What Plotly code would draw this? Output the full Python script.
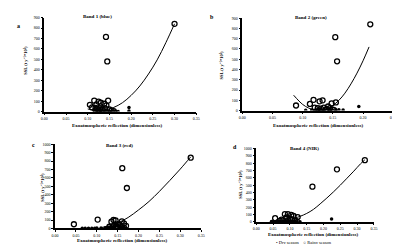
import plotly.graph_objects as go

# ---------------- data ----------------
# Panel a: Band 1 (blue)
a_rain_x = [0.300, 0.142, 0.145, 0.147, 0.115, 0.125, 0.130, 0.120, 0.105, 0.138, 0.143,
            0.110, 0.118, 0.122, 0.128, 0.132, 0.135, 0.140, 0.150, 0.155, 0.160, 0.125, 0.118]
a_rain_y = [840, 715, 480, 105, 105, 95, 85, 70, 65, 75, 60,
            40, 35, 25, 30, 20, 15, 30, 20, 10, 5, 10, 15]
a_dry_x = [0.195, 0.195, 0.120, 0.125, 0.130, 0.135, 0.140, 0.145, 0.150, 0.155, 0.160,
           0.165, 0.170, 0.115, 0.120, 0.128]
a_dry_y = [40, 5, 10, 5, 8, 3, 5, 2, 4, 3, 2, 1, 2, 12, 20, 15]
a_fit_x = [0.10, 0.12, 0.14, 0.16, 0.18, 0.20, 0.22, 0.24, 0.26, 0.28, 0.30]
a_fit_y = [25, 12, 15, 40, 85, 155, 245, 360, 495, 660, 840]

# Panel b: Band 2 (green)
b_rain_x = [0.212, 0.154, 0.157, 0.089, 0.112, 0.118, 0.128, 0.133, 0.148, 0.155, 0.142,
            0.120, 0.125, 0.130, 0.135, 0.140, 0.145, 0.150, 0.152, 0.138]
b_rain_y = [840, 715, 480, 50, 65, 105, 90, 100, 70, 80, 40,
            30, 25, 20, 30, 15, 25, 10, 5, 10]
b_dry_x = [0.193, 0.167, 0.160, 0.115, 0.120, 0.125, 0.130, 0.135, 0.140, 0.145, 0.150,
           0.155, 0.105, 0.128]
b_dry_y = [40, 5, 8, 5, 3, 8, 10, 5, 3, 8, 2, 5, 3, 15]
b_fit_x = [0.085, 0.10, 0.11, 0.12, 0.13, 0.14, 0.15, 0.16, 0.17, 0.18, 0.19, 0.20, 0.21]
b_fit_y = [150, 60, 25, 5, 2, 15, 50, 100, 170, 260, 365, 485, 620]

# Panel c: Band 3 (red)
c_rain_x = [0.325, 0.161, 0.172, 0.045, 0.102, 0.140, 0.145, 0.135, 0.160, 0.165, 0.150,
            0.155, 0.140, 0.145, 0.170, 0.130, 0.158, 0.150, 0.165]
c_rain_y = [840, 715, 480, 50, 105, 100, 95, 80, 85, 60, 50,
            40, 30, 20, 30, 20, 15, 10, 10]
c_dry_x = [0.065, 0.072, 0.080, 0.088, 0.095, 0.100, 0.110, 0.120, 0.125, 0.130, 0.135,
           0.140, 0.145, 0.150, 0.155, 0.160, 0.165, 0.170]
c_dry_y = [3, 2, 2, 3, 2, 4, 5, 8, 12, 10, 20, 15, 30, 40, 25, 5, 10, 3]
c_fit_x = [0.11, 0.13, 0.15, 0.175, 0.20, 0.225, 0.25, 0.275, 0.30, 0.325]
c_fit_y = [10, 30, 65, 130, 220, 320, 440, 570, 705, 850]

# Panel d: Band 4 (NIR)
d_rain_x = [0.323, 0.240, 0.167, 0.056, 0.085, 0.094, 0.104, 0.111, 0.123, 0.090, 0.100,
            0.075, 0.080, 0.095, 0.105, 0.115, 0.120, 0.070]
d_rain_y = [840, 715, 480, 50, 105, 105, 95, 80, 65, 60, 40,
            30, 20, 25, 30, 20, 10, 15]
d_dry_x = [0.224, 0.045, 0.050, 0.055, 0.060, 0.065, 0.070, 0.075, 0.080, 0.085, 0.090,
           0.095, 0.100, 0.105, 0.110, 0.115, 0.120, 0.130]
d_dry_y = [40, 4, 5, 3, 8, 5, 10, 3, 12, 5, 8, 15, 5, 10, 3, 5, 2, 3]
d_fit_x = [0.11, 0.13, 0.15, 0.17, 0.19, 0.21, 0.23, 0.25, 0.27, 0.29, 0.31, 0.323]
d_fit_y = [45, 75, 115, 170, 245, 325, 410, 500, 595, 690, 790, 845]

panel_titles = ["Band 1 (blue)", "Band 2 (green)", "Band 3 (red)", "Band 4 (NIR)"]
panel_letters = ["a", "b", "c", "d"]
x_title = "Exoatmospheric reflection (dimensionless)"
y_title = "SSL (t y⁻¹*10³)"
legend_labels = ["Dry season", "Rainy season"]

# ---------------- layout geometry ----------------
W, H = 400, 244
def px(x):
    return x / W
def py(y):
    return 1 - y / H

panels = [
    dict(xd=[px(33), px(188)], yd=[py(102.7), py(6.7)], xr=[0, 0.35], yr=[0, 900],
         rx=a_rain_x, ry=a_rain_y, dx=a_dry_x, dy=a_dry_y, fx=a_fit_x, fy=a_fit_y,
         title=(87, 6), xt=(108, 117), yt=(14, 50), letter=(7, 15)),
    dict(xd=[px(235), px(389)], yd=[py(101.7), py(7.3)], xr=[0, 0.25], yr=[0, 900],
         rx=b_rain_x, ry=b_rain_y, dx=b_dry_x, dy=b_dry_y, fx=b_fit_x, fy=b_fit_y,
         title=(305, 7), xt=(313, 117), yt=(214, 55), letter=(204, 6)),
    dict(xd=[px(44), px(193)], yd=[py(222), py(136)], xr=[0, 0.35], yr=[0, 1000],
         rx=c_rain_x, ry=c_rain_y, dx=c_dry_x, dy=c_dry_y, fx=c_fit_x, fy=c_fit_y,
         title=(110, 137), xt=(113, 234.5), yt=(31, 180), letter=(22, 137)),
    dict(xd=[px(249.3), px(369.3)], yd=[py(215.3), py(140.3)], xr=[0, 0.35], yr=[0, 1000],
         rx=d_rain_x, ry=d_rain_y, dx=d_dry_x, dy=d_dry_y, fx=d_fit_x, fy=d_fit_y,
         title=(298, 140), xt=(308, 228), yt=(233, 177), letter=(228, 139)),
]

SERIF = "Liberation Serif, Times New Roman, serif"
fig = go.Figure()
annotations = []
layout_axes = {}

for i, p in enumerate(panels):
    n = "" if i == 0 else str(i + 1)
    xa, ya = "x" + n, "y" + n
    fig.add_trace(go.Scatter(x=p["fx"], y=p["fy"], mode="lines", xaxis=xa, yaxis=ya,
                             line=dict(color="black", width=1, shape="spline"),
                             showlegend=False, hoverinfo="skip"))
    fig.add_trace(go.Scatter(x=p["dx"], y=p["dy"], mode="markers", xaxis=xa, yaxis=ya,
                             name=legend_labels[0], showlegend=False,
                             marker=dict(symbol="circle", size=3.5, color="black")))
    fig.add_trace(go.Scatter(x=p["rx"], y=p["ry"], mode="markers", xaxis=xa, yaxis=ya,
                             name=legend_labels[1], showlegend=False,
                             marker=dict(symbol="circle-open", size=5,
                                         color="black", line=dict(width=1.3, color="black"))))
    layout_axes["xaxis" + n] = dict(
        domain=p["xd"], range=p["xr"], anchor=ya, dtick=0.05, tick0=0, tickformat=".2f",
        showline=True, linecolor="black", linewidth=1.5, ticks="outside", ticklen=1.5,
        tickwidth=0.8, tickcolor="black", showgrid=False, zeroline=False,
        tickfont=dict(family=SERIF, size=4, color="black"), fixedrange=True)
    layout_axes["yaxis" + n] = dict(
        domain=p["yd"], range=p["yr"], anchor=xa, dtick=100, tick0=0,
        showline=True, linecolor="black", linewidth=1.5, ticks="outside", ticklen=2,
        tickwidth=0.8, tickcolor="black", showgrid=False, zeroline=False,
        tickfont=dict(family=SERIF, size=4, color="black"), fixedrange=True)
    annotations.append(dict(text="<b>" + panel_titles[i] + "</b>", x=px(p["title"][0]),
                            y=py(p["title"][1]), xref="paper", yref="paper", showarrow=False,
                            font=dict(family=SERIF, size=5, color="black"),
                            xanchor="center", yanchor="middle"))
    annotations.append(dict(text="<b>" + x_title + "</b>", x=px(p["xt"][0]),
                            y=py(p["xt"][1]), xref="paper", yref="paper", showarrow=False,
                            font=dict(family=SERIF, size=5, color="black"),
                            xanchor="center", yanchor="middle"))
    annotations.append(dict(text="<b>" + y_title + "</b>", x=px(p["yt"][0]),
                            y=py(p["yt"][1]), xref="paper", yref="paper", showarrow=False,
                            textangle=-90,
                            font=dict(family=SERIF, size=4.5, color="black"),
                            xanchor="center", yanchor="middle"))
    annotations.append(dict(text="<b>" + panel_letters[i] + "</b>", x=px(p["letter"][0]),
                            y=py(p["letter"][1]), xref="paper", yref="paper", showarrow=False,
                            font=dict(family=SERIF, size=6, color="black"),
                            xanchor="center", yanchor="middle"))

# legend as a compact text line below panel d
annotations.append(dict(text="• " + legend_labels[0] + "    ○ " + legend_labels[1],
                        x=px(298), y=py(236.5), xref="paper", yref="paper", showarrow=False,
                        font=dict(family=SERIF, size=4.5, color="black"), borderpad=0,
                        xanchor="center", yanchor="middle"))

fig.update_layout(
    width=W, height=H, margin=dict(l=0, r=0, t=0, b=0),
    paper_bgcolor="white", plot_bgcolor="white",
    annotations=annotations,
    showlegend=False,
    **layout_axes,
)

fig.write_html("out.html")
